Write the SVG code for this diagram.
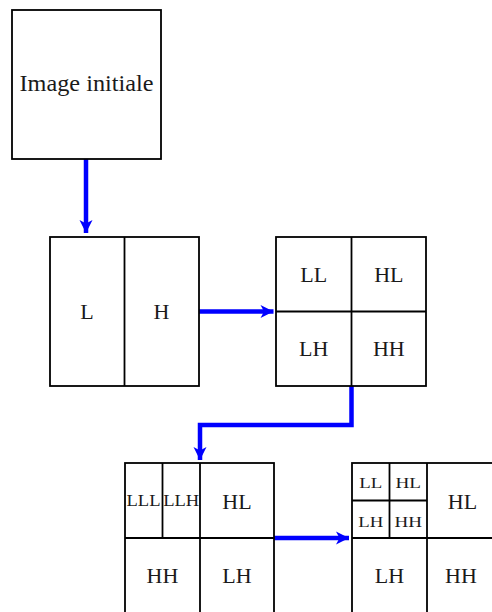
<svg xmlns="http://www.w3.org/2000/svg" width="492" height="612" viewBox="0 0 492 612">
<defs>
<style>
.box{fill:#fff;stroke:#000;stroke-width:1.8}
.div{fill:none;stroke:#000;stroke-width:1.8}
.t{font-family:"Liberation Serif","Times New Roman",serif;fill:#1a1a1a;text-anchor:middle}
.big{font-size:22px}
.img{font-size:23px}
.mid{font-size:17px}
.sm{font-size:15px}
.arr{fill:none;stroke:#0000ff;stroke-width:4.5;stroke-linejoin:miter}
</style>
<marker id="ah" markerUnits="userSpaceOnUse" markerWidth="16" markerHeight="16" viewBox="-14 -8 16 16" refX="0" refY="0" orient="auto">
<path d="M0,0 L-13,-6.5 L-9.5,0 L-13,6.5 Z" fill="#0000ff"/>
</marker>
</defs>
<rect width="492" height="612" fill="#fff"/>
<g id="connectors">
<path class="arr" d="M86,159 L86,233" marker-end="url(#ah)"/>
<path class="arr" d="M199,311.5 L273.5,311.5" marker-end="url(#ah)"/>
<path class="arr" d="M351.5,386 L351.5,425 L200,425 L200,460" marker-end="url(#ah)"/>
<path class="arr" d="M274,538 L349,538" marker-end="url(#ah)"/>
</g>
<g id="image-initiale">
<rect class="box" x="12" y="10" width="149" height="149"/>
<text class="t img" x="86.5" y="90.5" textLength="134" lengthAdjust="spacingAndGlyphs">Image initiale</text>
</g>
<g id="niveau-LH">
<rect class="box" x="50" y="237" width="149" height="149"/>
<line class="div" x1="124.5" y1="237" x2="124.5" y2="386"/>
<text class="t big" x="87" y="319">L</text>
<text class="t big" x="161.5" y="319">H</text>
</g>
<g id="niveau-1">
<rect class="box" x="276" y="237" width="150" height="149"/>
<line class="div" x1="351.5" y1="237" x2="351.5" y2="386"/>
<line class="div" x1="276" y1="311.5" x2="426" y2="311.5"/>
<text class="t big" x="313.7" y="282">LL</text>
<text class="t big" x="388.8" y="282">HL</text>
<text class="t big" x="313.7" y="356">LH</text>
<text class="t big" x="388.8" y="356">HH</text>
</g>
<g id="niveau-1b">
<rect class="box" x="125" y="463" width="149" height="152"/>
<line class="div" x1="200" y1="463" x2="200" y2="615"/>
<line class="div" x1="125" y1="538" x2="274" y2="538"/>
<line class="div" x1="162.5" y1="463" x2="162.5" y2="538"/>
<text class="t mid" x="143.5" y="506" textLength="34" lengthAdjust="spacingAndGlyphs">LLL</text>
<text class="t mid" x="181.2" y="506" textLength="36" lengthAdjust="spacingAndGlyphs">LLH</text>
<text class="t big" x="237" y="508.5">HL</text>
<text class="t big" x="162.5" y="583">HH</text>
<text class="t big" x="237" y="583">LH</text>
</g>
<g id="niveau-2">
<rect class="box" x="352" y="463" width="150" height="152"/>
<line class="div" x1="427" y1="463" x2="427" y2="615"/>
<line class="div" x1="352" y1="538" x2="502" y2="538"/>
<line class="div" x1="389.5" y1="463" x2="389.5" y2="538"/>
<line class="div" x1="352" y1="500.5" x2="427" y2="500.5"/>
<text class="t sm" x="370.7" y="487.5" textLength="23" lengthAdjust="spacingAndGlyphs">LL</text>
<text class="t sm" x="408.2" y="487.5" textLength="25.5" lengthAdjust="spacingAndGlyphs">HL</text>
<text class="t sm" x="370.7" y="526.7" textLength="25" lengthAdjust="spacingAndGlyphs">LH</text>
<text class="t sm" x="408.2" y="526.7" textLength="27.5" lengthAdjust="spacingAndGlyphs">HH</text>
<text class="t big" x="462.5" y="508.5">HL</text>
<text class="t big" x="389.5" y="583">LH</text>
<text class="t big" x="461" y="583">HH</text>
</g>
</svg>
